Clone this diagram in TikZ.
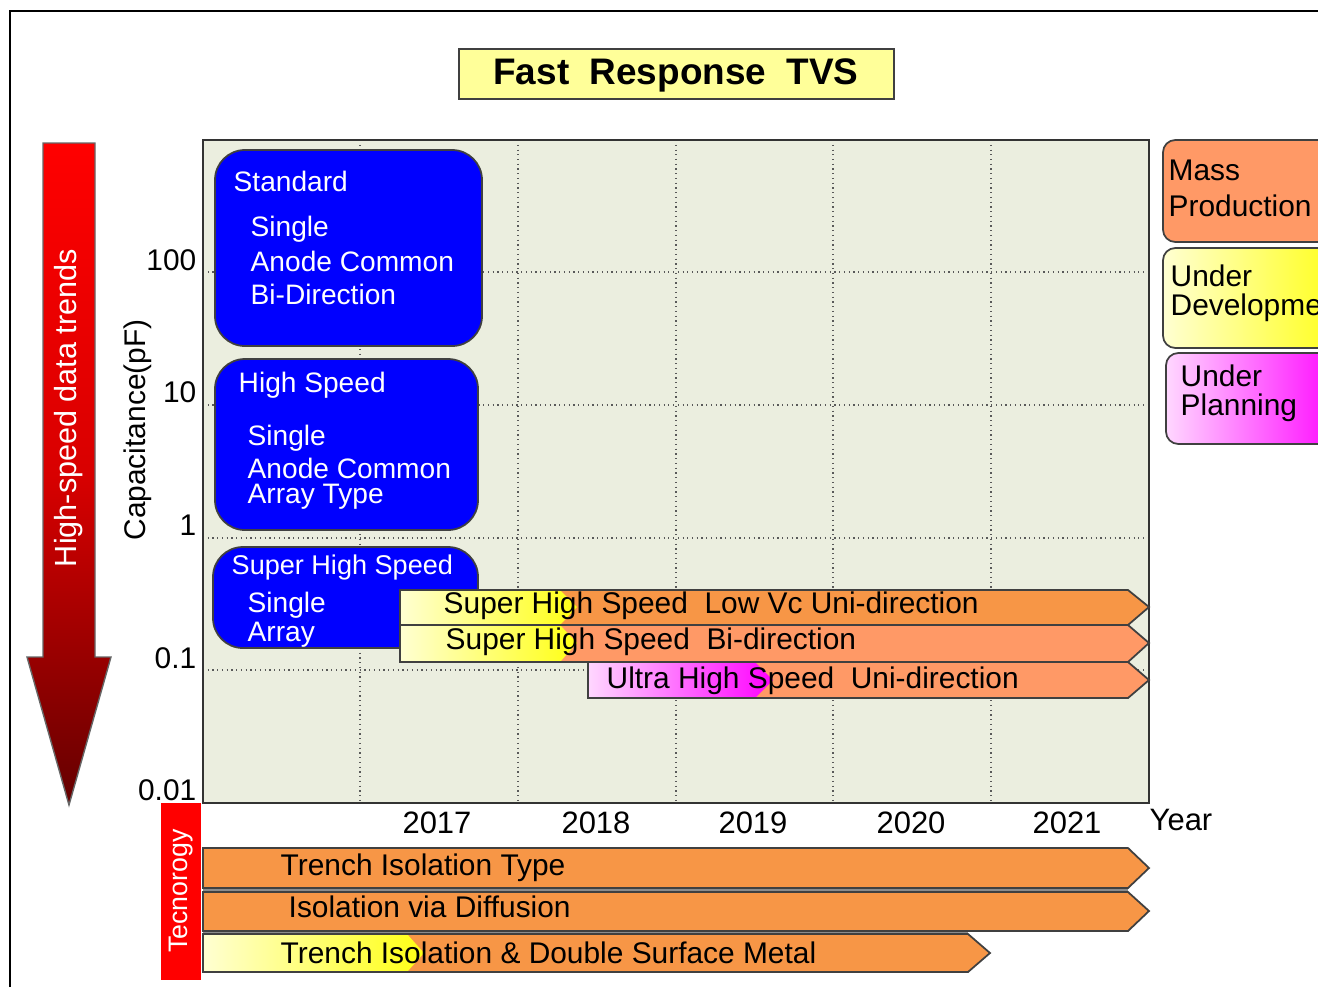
\documentclass[tikz,border=0pt]{standalone}
\usepackage{fontspec}
\setmainfont{Liberation Sans}
\usetikzlibrary{positioning}
\definecolor{plotbg}{RGB}{235,238,223}
\definecolor{boxblue}{RGB}{0,0,255}
\definecolor{barorange}{RGB}{247,150,70}
\definecolor{barsalmon}{RGB}{255,153,102}
\definecolor{paleyellow}{RGB}{255,255,210}
\definecolor{deepyellow}{RGB}{255,255,20}
\definecolor{palepink}{RGB}{255,215,255}
\definecolor{deepmagenta}{RGB}{255,0,255}
\definecolor{titleyellow}{RGB}{255,255,153}
\definecolor{darkred}{RGB}{100,0,0}

\begin{document}
\begin{tikzpicture}[x=0.01cm,y=-0.01cm,
	txt/.style={anchor=west,inner sep=0pt,font=\fontsize{8.5}{10}\selectfont},
	wtxt/.style={anchor=west,inner sep=0pt,text=white,font=\fontsize{8}{10}\selectfont},
	num/.style={inner sep=0pt,font=\fontsize{8.5}{10}\selectfont},
	outl/.style={draw=black!75,line width=0.5pt},
	bluebox/.style={outl,fill=boxblue,rounded corners=8.5pt},
	legbox/.style={outl,rounded corners=3.5pt}]
	\useasboundingbox (0,0) rectangle (1318,987);
	\clip (0,0) rectangle (1318,987);
	%cornice
	\draw [line width=0.8pt] (10,987) -- (10,11) -- (1318,11);
	%titolo
	\draw [outl,fill=titleyellow] (459,49) rectangle (894,99);
	\node [font=\fontsize{10.5}{12}\selectfont\bfseries] (title) at (676,75) {Fast~~Response~~TVS};
	%freccia
	\shade [draw=black!60,top color=red,bottom color=darkred,middle color=red!75!darkred]
		(43,143) -- (95,143) -- (95,657) -- (111,657) -- (69,805) -- (27,657) -- (43,657) -- cycle;
	\node [rotate=90,text=white,font=\fontsize{8.7}{10}\selectfont] (trend) at (69,408) {High-speed data trends};
	\node [rotate=90,font=\fontsize{8.5}{10}\selectfont] (cap) at (138,430) {Capacitance(pF)};
	%griglia
	\fill [plotbg] (203,140) rectangle (1149,803);
	\foreach \x in {360,518,676,833,991}
		\draw [densely dotted,black!65,line width=0.35pt] (\x,140) -- (\x,803);
	\foreach \y in {272,405,538,670}
		\draw [densely dotted,black!65,line width=0.35pt] (203,\y) -- (1149,\y);
	\draw [black!80,line width=0.6pt] (203,140) rectangle (1149,803);
	\foreach \y/\lab in {260/100,392/10,525/1,658/0.1,790/0.01}
		\node [num,anchor=east] (c\y) at (197,\y) {\lab};
	\foreach \x/\yr in {437/2017,596/2018,753/2019,911/2020,1067/2021}
		\node [num,font=\fontsize{8.8}{10}\selectfont] (y\yr) at (\x,823) {\yr};
	\node [num,anchor=west,font=\fontsize{8.8}{10}\selectfont] (year) at (1149,820) {Year};
	%prodotti
	\draw [bluebox] (215,150) rectangle (482,346);
	\node [wtxt] (std) at (233,181) {Standard};
	\node [wtxt] (std1) at (250,229) {Single};
	\node [wtxt] (std2) at (250,261) {Anode Common};
	\node [wtxt] (std3) at (250,294) {Bi-Direction};
	\draw [bluebox] (215,359) rectangle (478,530);
	\node [wtxt] (hs) at (238,385) {High Speed};
	\node [wtxt] (hs1) at (247,438) {Single};
	\node [wtxt] (hs2) at (247,468) {Anode Common};
	\node [wtxt] (hs3) at (247,497) {Array Type};
	\draw [bluebox] (213,547) rectangle (478,648);
	\node [wtxt,font=\fontsize{7.7}{10}\selectfont] (shs) at (231,567) {Super High Speed};
	\node [wtxt] (shs1) at (247,605) {Single};
	\node [wtxt] (shs2) at (247,635) {Array};
	%barre
	\fill [barorange] (400,590) -- (1128,590) -- (1149,607) -- (1128,625) -- (400,625) -- cycle;
	\shade [left color=paleyellow,right color=deepyellow] (400,590) -- (560,590) -- (577,607) -- (560,625) -- (400,625) -- cycle;
	\draw [outl] (400,590) -- (1128,590) -- (1149,607) -- (1128,625) -- (400,625) -- cycle;
	\node [txt] (lowvc) at (443,606) {Super High Speed~~Low Vc Uni-direction};
	\fill [barsalmon] (400,625) -- (1128,625) -- (1149,643) -- (1128,662) -- (400,662) -- cycle;
	\shade [left color=paleyellow,right color=deepyellow] (400,625) -- (560,625) -- (577,643) -- (560,662) -- (400,662) -- cycle;
	\draw [outl] (400,625) -- (1128,625) -- (1149,643) -- (1128,662) -- (400,662) -- cycle;
	\node [txt] (bidir) at (445,642) {Super High Speed~~Bi-direction};
	\fill [barsalmon] (588,662) -- (1128,662) -- (1149,680) -- (1128,698) -- (588,698) -- cycle;
	\shade [left color=palepink,right color=deepmagenta] (588,662) -- (755,662) -- (773,680) -- (755,698) -- (588,698) -- cycle;
	\draw [outl] (588,662) -- (1128,662) -- (1149,680) -- (1128,698) -- (588,698) -- cycle;
	\node [txt] (ultra) at (606,681) {Ultra High Speed~~Uni-direction};
	%tecnologia
	\fill [red] (161,803) rectangle (201,980);
	\node [rotate=90,text=white,font=\fontsize{7.6}{9}\selectfont] (tech) at (181,891) {Tecnorogy};
	\fill [black!45] (203,886) rectangle (1128,894);
	\fill [black!45] (203,929) rectangle (968,936);
	\draw [outl,fill=barorange] (203,848) -- (1128,848) -- (1149,868) -- (1128,888) -- (203,888) -- cycle;
	\node [txt] (trench) at (280,868) {Trench Isolation Type};
	\draw [outl,fill=barorange] (203,892) -- (1128,892) -- (1149,911) -- (1128,931) -- (203,931) -- cycle;
	\node [txt] (diff) at (288,907) {Isolation via Diffusion};
	\fill [barorange] (203,934) -- (968,934) -- (990,953) -- (968,972) -- (203,972) -- cycle;
	\shade [left color=paleyellow,right color=deepyellow] (203,934) -- (407,934) -- (424,953) -- (407,972) -- (203,972) -- cycle;
	\draw [outl] (203,934) -- (968,934) -- (990,953) -- (968,972) -- (203,972) -- cycle;
	\node [txt] (dsm) at (280,953) {Trench Isolation \& Double Surface Metal};
	%legenda
	\draw [legbox,fill=barsalmon] (1163,140) rectangle (1345,242);
	\node [txt] (mass1) at (1168,170) {Mass};
	\node [txt] (mass2) at (1168,206) {Production};
	\shade [legbox,left color=paleyellow,right color=deepyellow] (1163,248) rectangle (1345,348);
	\node [txt] (dev1) at (1170,276) {Under};
	\node [txt] (dev2) at (1170,308) {Development};
	\shade [legbox,left color=palepink,right color=deepmagenta] (1166,353) rectangle (1345,444);
	\node [txt] (plan1) at (1180,376) {Under};
	\node [txt] (plan2) at (1180,408) {Planning};
\end{tikzpicture}
\end{document}
